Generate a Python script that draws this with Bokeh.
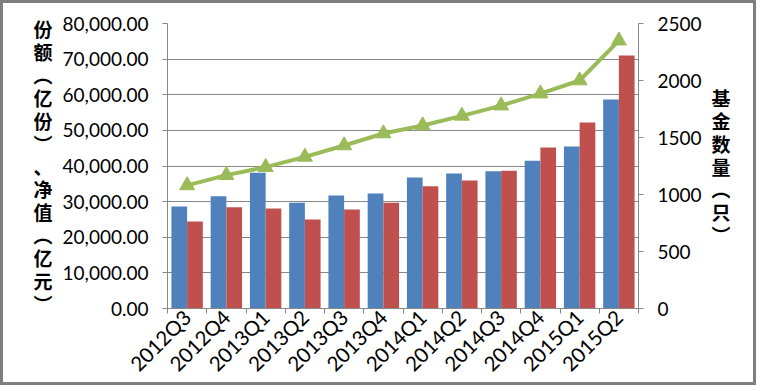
import numpy as np
from bokeh.plotting import figure
from bokeh.models import (Range1d, LinearAxis, FixedTicker, SingleIntervalTicker,
                          NumeralTickFormatter)
from bokeh.embed import file_html
from bokeh.resources import INLINE

quarters = ["2012Q3", "2012Q4", "2013Q1", "2013Q2", "2013Q3", "2013Q4",
            "2014Q1", "2014Q2", "2014Q3", "2014Q4", "2015Q1", "2015Q2"]
shares = [28600, 31500, 38100, 29700, 31700, 32300, 36800, 37900, 38500, 41500, 45500, 58700]
nav = [24400, 28400, 28100, 25000, 27800, 29700, 34300, 35900, 38700, 45200, 52200, 71000]
fund_count = [1080, 1170, 1240, 1330, 1430, 1535, 1605, 1690, 1780, 1885, 2000, 2350]
left_title = "份额︵亿份︶、净值︵亿元︶"
right_title = "基金数量︵只︶"

BLUE = "#4F81BD"
RED = "#C0504D"
GREEN = "#9BBB59"
GRID = "#878787"
FONT = "Lato"
CJK = "Noto Sans CJK SC"

n = len(quarters)
xs = np.arange(n) + 0.5

p = figure(width=756, height=385, output_backend="svg", toolbar_location=None,
           x_range=Range1d(0, n), y_range=Range1d(0, 80000),
           min_border_left=164, min_border_right=121, min_border_top=20,
           min_border_bottom=80, background_fill_color="white",
           border_fill_color="white", outline_line_color=None)
p.styles = {"border": "3px solid #7f7f7f"}

p.extra_y_ranges = {"cnt": Range1d(0, 2500)}

p.vbar(x=xs - 0.2, top=shares, width=0.4, fill_color=BLUE, line_color=None)
p.vbar(x=xs + 0.2, top=nav, width=0.4, fill_color=RED, line_color=None)
p.line(xs, fund_count, y_range_name="cnt", line_color=GREEN, line_width=4)
p.scatter(xs, fund_count, y_range_name="cnt", marker="triangle", size=15,
          fill_color=GREEN, line_color=GREEN)

# x axis
xa = p.xaxis[0]
xa.ticker = FixedTicker(ticks=list(xs), minor_ticks=list(range(n + 1)))
xa.major_label_overrides = {float(x): q for x, q in zip(xs, quarters)}
xa.major_label_orientation = np.pi / 4
xa.major_tick_out = 0
xa.major_tick_in = 0
xa.minor_tick_out = 5
xa.minor_tick_in = 0
xa.minor_tick_line_color = GRID
xa.axis_line_color = GRID
xa.major_label_text_font = FONT
xa.major_label_text_font_size = "20.5px"
xa.major_label_text_color = "black"
xa.major_label_standoff = 0

# left axis
ya = p.yaxis[0]
ya.ticker = SingleIntervalTicker(interval=10000, num_minor_ticks=0)
ya.formatter = NumeralTickFormatter(format="0,0.00")
ya.major_tick_out = 5
ya.major_tick_in = 0
ya.minor_tick_out = 0
ya.major_tick_line_color = GRID
ya.axis_line_color = GRID
ya.major_label_text_font = FONT
ya.major_label_text_font_size = "19px"
ya.major_label_text_color = "black"
ya.major_label_standoff = 14
ya.axis_label = "\n".join(left_title)
ya.axis_label_orientation = "horizontal"
ya.axis_label_text_font = CJK
ya.axis_label_text_font_size = "19px"
ya.axis_label_text_font_style = "bold"
ya.axis_label_text_line_height = 0.85
ya.axis_label_text_color = "black"
ya.axis_label_standoff = 7

# right axis
ra = LinearAxis(y_range_name="cnt",
                ticker=SingleIntervalTicker(interval=500, num_minor_ticks=0))
ra.major_tick_out = 5
ra.major_tick_in = 0
ra.minor_tick_out = 0
ra.major_tick_line_color = GRID
ra.axis_line_color = GRID
ra.major_label_text_font = FONT
ra.major_label_text_font_size = "19px"
ra.major_label_text_color = "black"
ra.major_label_standoff = 14
ra.axis_label = "\n".join(right_title)
ra.axis_label_orientation = "horizontal"
ra.axis_label_text_font = CJK
ra.axis_label_text_font_size = "19px"
ra.axis_label_text_font_style = "bold"
ra.axis_label_text_line_height = 0.85
ra.axis_label_text_color = "black"
ra.axis_label_standoff = 7
p.add_layout(ra, "right")

p.xgrid.visible = False
p.ygrid.grid_line_color = GRID
p.ygrid.grid_line_width = 1

html = file_html(p, INLINE)
html = html.replace("<head>", "<head><style>html,body{margin:0 !important;padding:0 !important;overflow:hidden;}</style>", 1)
open("out.html", "w").write(html)
